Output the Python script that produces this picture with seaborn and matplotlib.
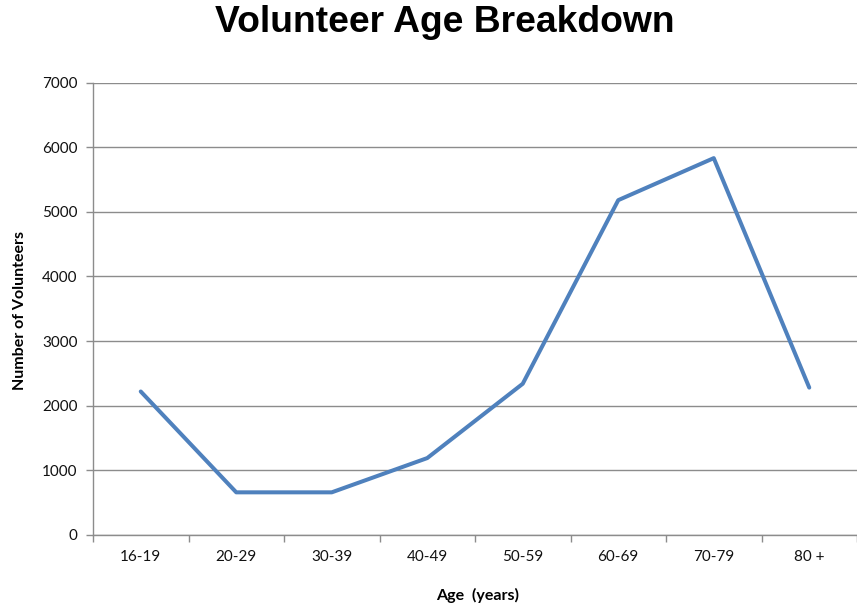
import matplotlib
matplotlib.use("Agg")
import matplotlib.pyplot as plt
import seaborn as sns
import pandas as pd

# Volunteer counts by age group
age_groups = ["16-19", "20-29", "30-39", "40-49", "50-59", "60-69", "70-79", "80 +"]
volunteers = [2220, 660, 660, 1190, 2340, 5180, 5830, 2280]
y_ticks = [0, 1000, 2000, 3000, 4000, 5000, 6000, 7000]

df = pd.DataFrame({"age": age_groups, "count": volunteers})

sns.set_theme(style="white")
plt.rcParams["font.family"] = ["Lato", "DejaVu Sans"]

fig = plt.figure(figsize=(8.57, 6.07), dpi=100)
ax = fig.add_axes([93 / 857, 1 - 535 / 607, 1 - 93 / 857, (535 - 82.5) / 607])

sns.lineplot(data=df, x="age", y="count", ax=ax, color="#4F81BD",
             linewidth=2.9, sort=False)

ax.set_xlim(-0.5, len(age_groups) - 0.5)
ax.set_ylim(0, 7000)
ax.set_yticks(y_ticks)
ax.set_yticklabels([str(v) for v in y_ticks], fontsize=11, color="#111111")
ax.set_xticks(range(len(age_groups)))
ax.set_xticklabels(age_groups, fontsize=11, color="#111111")

# Category boundary ticks on the x axis
ax.set_xticks([i + 0.5 for i in range(-1, len(age_groups))], minor=True)
ax.tick_params(axis="x", which="major", length=0, pad=11)
ax.tick_params(axis="x", which="minor", length=5, width=1, color="#8c8c8c",
               direction="out", bottom=True)
ax.tick_params(axis="y", which="major", length=5, width=1, color="#8c8c8c",
               direction="out", pad=6, left=True)

ax.grid(axis="y", color="#8c8c8c", linewidth=1)
ax.set_axisbelow(True)
for side in ["top", "right"]:
    ax.spines[side].set_visible(False)
for side in ["left", "bottom"]:
    ax.spines[side].set_color("#8c8c8c")
    ax.spines[side].set_linewidth(1)

ax.set_xlabel("Age  (years)", fontsize=11.5, fontweight="bold", color="black")
ax.xaxis.set_label_coords((478 - 93) / (857 - 93), -(595 - 535) / (535 - 82.5))
ax.set_ylabel("Number of Volunteers", fontsize=11.5, fontweight="bold", color="black")
ax.yaxis.set_label_coords(-(93 - 20) / (857 - 93), (535 - 311) / (535 - 82.5))
ax.xaxis.label.set_va("center")
ax.yaxis.label.set_va("center")

fig.text(445 / 857, 1 - 23 / 607, "Volunteer Age Breakdown", ha="center", va="center",
         fontsize=26.8, fontweight="bold", family="Liberation Sans", color="black")

fig.savefig("out.png", dpi=100)
